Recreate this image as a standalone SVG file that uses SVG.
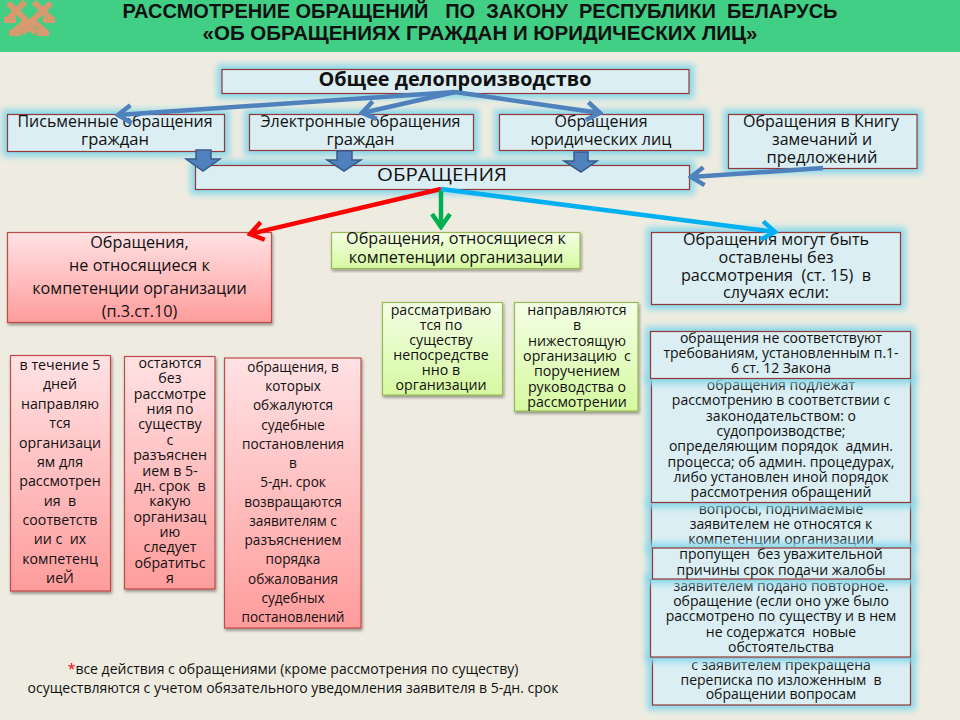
<svg xmlns="http://www.w3.org/2000/svg" width="960" height="720" viewBox="0 0 960 720">
<style>
text{font-family:"Open Sans","Noto Sans","Liberation Sans",sans-serif;fill:#111;text-anchor:middle}
.t{font-family:"Liberation Sans",Arial,sans-serif;font-size:20px;font-weight:700;white-space:pre}
.l{font-size:15.5px}
.k{font-size:16.2px}
.m{font-size:13.6px}
.n{font-size:14.2px}
.s{font-size:14px}
.glow{fill:#8ad8ea;filter:url(#blur)}
.b{fill:#daeef3;stroke:#953735;stroke-width:1.2}
.r{fill:url(#red);stroke:#be4b48;stroke-width:1.2;filter:url(#sh)}
.g{fill:url(#green);stroke:#98b954;stroke-width:1.2;filter:url(#sh)}
.c{fill:none;stroke-width:4.5}
.dn{fill:#4f81bd;stroke:#385d8a;stroke-width:1.5}
</style>
<defs>
<filter id="blur" x="-20%" y="-80%" width="140%" height="260%"><feGaussianBlur stdDeviation="3.2"/></filter>
<filter id="sh" x="-10%" y="-10%" width="120%" height="120%"><feDropShadow dx="1" dy="2" stdDeviation="1.5" flood-color="#000" flood-opacity="0.4"/></filter>
<linearGradient id="red" x1="0" y1="0" x2="0" y2="1"><stop offset="0" stop-color="#ffe2e4"/><stop offset="1" stop-color="#ff9c9c"/></linearGradient>
<linearGradient id="green" x1="0" y1="0" x2="0" y2="1"><stop offset="0" stop-color="#f4ffe6"/><stop offset="1" stop-color="#d6f9a0"/></linearGradient>
<marker id="aB" markerUnits="userSpaceOnUse" viewBox="0 0 24 24" refX="21" refY="12" markerWidth="24" markerHeight="24" orient="auto"><path d="M8 3L21 12L8 21" fill="none" stroke="#4f81bd" stroke-width="4.500"/></marker>
<marker id="aR" markerUnits="userSpaceOnUse" viewBox="0 0 24 24" refX="21" refY="12" markerWidth="24" markerHeight="24" orient="auto"><path d="M8 3L21 12L8 21" fill="none" stroke="#ff0000" stroke-width="4.500"/></marker>
<marker id="aG" markerUnits="userSpaceOnUse" viewBox="0 0 24 24" refX="21" refY="12" markerWidth="24" markerHeight="24" orient="auto"><path d="M8 3L21 12L8 21" fill="none" stroke="#00b050" stroke-width="4.500"/></marker>
<marker id="aL" markerUnits="userSpaceOnUse" viewBox="0 0 24 24" refX="21" refY="12" markerWidth="24" markerHeight="24" orient="auto"><path d="M8 3L21 12L8 21" fill="none" stroke="#00b0f0" stroke-width="4.500"/></marker>
</defs>
<rect width="960" height="720" fill="#eeece1"/>
<rect id="header" width="960" height="52" fill="#40cf85"/>
<g id="logo" fill="none" stroke="#d8996f" stroke-width="6">
<path d="M8 3L26 20M25 2L7 20M51 3L33 20M34 2L52 20M4 20H16M43 20H55M12 33L29 19M47 33L30 19M22 20L36 33M36 20L22 33M9 33H21M37 33H49"/>
</g>
<g id="title">
<text class="t" x="480" y="18" textLength="715" lengthAdjust="spacingAndGlyphs">РАССМОТРЕНИЕ ОБРАЩЕНИЙ   ПО  ЗАКОНУ  РЕСПУБЛИКИ  БЕЛАРУСЬ</text>
<text class="t" x="480" y="40" textLength="555" lengthAdjust="spacingAndGlyphs">«ОБ ОБРАЩЕНИЯХ ГРАЖДАН И ЮРИДИЧЕСКИХ ЛИЦ»</text>
</g>
<g id="n-general"><rect class="glow" x="217" y="64.5" width="477" height="34"/><rect class="b" x="222" y="69.5" width="467" height="24"/>
<text x="455" y="86" font-size="19.5" font-weight="700" textLength="273" lengthAdjust="spacingAndGlyphs">Общее делопроизводство</text></g>
<g id="n-written"><rect class="glow" x="2.500" y="109.5" width="227" height="47"/><rect class="b" x="7.500" y="114.5" width="217" height="37"/>
<text class="l" x="115" y="127" textLength="195" lengthAdjust="spacingAndGlyphs">Письменные обращения</text><text class="l" x="115" y="145" textLength="68" lengthAdjust="spacingAndGlyphs">граждан</text></g>
<g id="n-electronic"><rect class="glow" x="244.500" y="109.5" width="234" height="46"/><rect class="b" x="249.5" y="114.5" width="224" height="36"/>
<text class="l" x="360.500" y="127" textLength="200" lengthAdjust="spacingAndGlyphs">Электронные обращения</text><text class="l" x="360.500" y="145" textLength="68" lengthAdjust="spacingAndGlyphs">граждан</text></g>
<g id="n-legal"><rect class="glow" x="494.500" y="109.5" width="214" height="46"/><rect class="b" x="499.5" y="114.5" width="204" height="36"/>
<text class="l" x="601" y="127" textLength="93" lengthAdjust="spacingAndGlyphs">Обращения</text><text class="l" x="601" y="145" textLength="141" lengthAdjust="spacingAndGlyphs">юридических лиц</text></g>
<g id="n-book"><rect class="glow" x="723.5" y="109.5" width="198.500" height="64"/><rect class="b" x="728.5" y="114.5" width="188.500" height="54"/>
<text class="l" x="821" y="127" textLength="156" lengthAdjust="spacingAndGlyphs">Обращения в Книгу</text><text class="l" x="822" y="145" textLength="100" lengthAdjust="spacingAndGlyphs">замечаний и</text><text class="l" x="822" y="163" textLength="111" lengthAdjust="spacingAndGlyphs">предложений</text></g>
<g id="n-appeals"><rect class="glow" x="190.500" y="160.5" width="504" height="34"/><rect class="b" x="195.5" y="165.5" width="494" height="24"/>
<text x="442" y="181" font-size="18" textLength="130" lengthAdjust="spacingAndGlyphs">ОБРАЩЕНИЯ</text></g>
<g id="n-red-main"><rect class="r" x="7.500" y="232.5" width="264" height="90"/>
<text class="k" x="139.500" y="248">Обращения,</text><text class="k" x="139.500" y="271">не относящиеся к</text><text class="k" x="139.500" y="294">компетенции организации</text><text class="k" x="139.500" y="317">(п.3.ст.10)</text></g>
<g id="n-green-main"><rect class="g" x="331.5" y="232.5" width="248.500" height="36"/>
<text class="k" x="456" y="244">Обращения, относящиеся к</text><text class="k" x="456" y="263">компетенции организации</text></g>
<g id="n-blue-main"><rect class="glow" x="646.5" y="227.5" width="259" height="82"/><rect class="b" x="651.5" y="232.5" width="249" height="72"/>
<text class="k" x="776" y="245">Обращения могут быть</text><text class="k" x="776" y="263">оставлены без</text><text class="k" x="776" y="281" xml:space="preserve">рассмотрения  (ст. 15)  в</text><text class="k" x="776" y="298">случаях если:</text></g>
<g id="n-red-1"><rect class="r" x="10.500" y="355.5" width="100" height="235.500"/>
<text class="n" x="60" y="370">в течение 5</text><text class="n" x="60" y="389">дней</text><text class="n" x="60" y="409">направляю</text><text class="n" x="60" y="428">тся</text><text class="n" x="60" y="448">организаци</text><text class="n" x="60" y="467">ям для</text><text class="n" x="60" y="486">рассмотрен</text><text class="n" x="60" y="506" xml:space="preserve">ия  в</text><text class="n" x="60" y="525">соответств</text><text class="n" x="60" y="544" xml:space="preserve">ии с  их</text><text class="n" x="60" y="564">компетенц</text><text class="n" x="60" y="583">иеЙ</text></g>
<g id="n-red-2"><rect class="r" x="124.500" y="356.5" width="90.500" height="232.500"/>
<text class="n" x="170" y="368">остаются</text><text class="n" x="170" y="383">без</text><text class="n" x="170" y="399">рассмотре</text><text class="n" x="170" y="414">ния по</text><text class="n" x="170" y="429">существу</text><text class="n" x="170" y="445">с</text><text class="n" x="170" y="460">разъяснен</text><text class="n" x="170" y="476">ием в 5-</text><text class="n" x="170" y="491" xml:space="preserve">дн. срок  в</text><text class="n" x="170" y="506">какую</text><text class="n" x="170" y="522">организац</text><text class="n" x="170" y="537">ию</text><text class="n" x="170" y="552">следует</text><text class="n" x="170" y="568">обратитьс</text><text class="n" x="170" y="583">я</text></g>
<g id="n-red-3"><rect class="r" x="224.500" y="358" width="136.500" height="270"/>
<text class="m" x="293" y="372">обращения, в</text><text class="m" x="293" y="391">которых</text><text class="m" x="293" y="410">обжалуются</text><text class="m" x="293" y="430">судебные</text><text class="m" x="293" y="449">постановления</text><text class="m" x="293" y="468">в</text><text class="m" x="293" y="487">5-дн. срок</text><text class="m" x="293" y="507">возвращаются</text><text class="m" x="293" y="526">заявителям с</text><text class="m" x="293" y="545">разъяснением</text><text class="m" x="293" y="564">порядка</text><text class="m" x="293" y="584">обжалования</text><text class="m" x="293" y="603">судебных</text><text class="m" x="293" y="622">постановлений</text></g>
<g id="n-green-1"><rect class="g" x="382.5" y="302.5" width="120" height="92.500"/>
<text class="n" x="441" y="315">рассматриваю</text><text class="n" x="441" y="330">тся по</text><text class="n" x="441" y="345">существу</text><text class="n" x="441" y="360">непосредстве</text><text class="n" x="441" y="375">нно в</text><text class="n" x="441" y="390">организации</text></g>
<g id="n-green-2"><rect class="g" x="514.5" y="302.5" width="123.500" height="108.500"/>
<text class="n" x="577" y="315">направляются</text><text class="n" x="577" y="330">в</text><text class="n" x="577" y="346">нижестоящую</text><text class="n" x="577" y="361" xml:space="preserve">организацию  с</text><text class="n" x="577" y="376">поручением</text><text class="n" x="577" y="392">руководства о</text><text class="n" x="577" y="407">рассмотрении</text></g>
<g id="n-case-6"><rect class="glow" x="647.500" y="653" width="268" height="57"/><rect class="b" x="652.5" y="658" width="258" height="47"/>
<text class="s" x="781" y="670">с заявителем прекращена</text><text class="s" x="781" y="685" xml:space="preserve">переписка по изложенным  в</text><text class="s" x="781" y="699">обращении вопросам</text></g>
<g id="n-case-3"><rect class="glow" x="646.5" y="497.5" width="269" height="55.500"/><rect class="b" x="651.5" y="502.5" width="259" height="45.500"/>
<text class="s" x="781" y="514">вопросы, поднимаемые</text><text class="s" x="781" y="529">заявителем не относятся к</text><text class="s" x="781" y="544">компетенции организации</text></g>
<g id="n-case-2"><rect class="glow" x="646.5" y="373.5" width="269" height="134"/><rect class="b" x="651.5" y="378.5" width="259" height="124"/>
<text class="s" x="781" y="390">обращения подлежат</text><text class="s" x="781" y="405">рассмотрению в соответствии с</text><text class="s" x="781" y="421">законодательством: о</text><text class="s" x="781" y="436">судопроизводстве;</text><text class="s" x="781" y="451" xml:space="preserve">определяющим порядок  админ.</text><text class="s" x="781" y="467">процесса; об админ. процедурах,</text><text class="s" x="781" y="482">либо установлен иной порядок</text><text class="s" x="781" y="497">рассмотрения обращений</text></g>
<g id="n-case-1"><rect class="glow" x="645.500" y="326.5" width="270" height="57"/><rect class="b" x="650.5" y="331.5" width="260" height="47"/>
<text class="s" x="781" y="343">обращения не соответствуют</text><text class="s" x="781" y="358">требованиям, установленным п.1-</text><text class="s" x="781" y="373">6 ст. 12 Закона</text></g>
<g id="n-case-5"><rect class="glow" x="645.500" y="574.5" width="270" height="87.500"/><rect class="b" x="650.5" y="579.5" width="260" height="77.500"/>
<text class="s" x="781" y="591">заявителем подано повторное.</text><text class="s" x="781" y="606">обращение (если оно уже было</text><text class="s" x="781" y="621">рассмотрено по существу и в нем</text><text class="s" x="781" y="637" xml:space="preserve">не содержатся  новые</text><text class="s" x="781" y="652">обстоятельства</text></g>
<g id="n-case-4"><rect class="glow" x="647.500" y="543" width="268" height="41"/><rect class="b" x="652.5" y="548" width="258" height="31"/>
<text class="s" x="781" y="559" xml:space="preserve">пропущен  без уважительной</text><text class="s" x="781" y="575">причины срок подачи жалобы</text></g>
<g id="footnote">
<text class="s" x="293" y="674"><tspan fill="#ff0000">*</tspan>все действия с обращениями (кроме рассмотрения по  существу)</text>
<text class="s" x="293" y="693">осуществляются с учетом обязательного уведомления заявителя в 5-дн. срок</text>
</g>
<g id="block-arrows">
<path class="dn" d="M196 150H211V159H220L203 171L186 159H196Z"/>
<path class="dn" d="M337 151H352V160H361L344 171L327 160H337Z"/>
<path class="dn" d="M574 152H588V161H597L581 172L564 161H574Z"/>
</g>
<g id="connectors">
<path class="c" stroke="#4f81bd" d="M455 92L118 115" marker-end="url(#aB)"/>
<path class="c" stroke="#4f81bd" d="M455 92L362 113" marker-end="url(#aB)"/>
<path class="c" stroke="#4f81bd" d="M455 92L600 113" marker-end="url(#aB)"/>
<path class="c" stroke="#4f81bd" d="M823 168L691 177" marker-end="url(#aB)"/>
<path class="c" stroke="#ff0000" d="M441 189L250 234" marker-end="url(#aR)"/>
<path class="c" stroke="#00b050" d="M441 190V227" marker-end="url(#aG)"/>
<path class="c" stroke="#00b0f0" d="M441 189L775 232" marker-end="url(#aL)"/>
</g>
</svg>
